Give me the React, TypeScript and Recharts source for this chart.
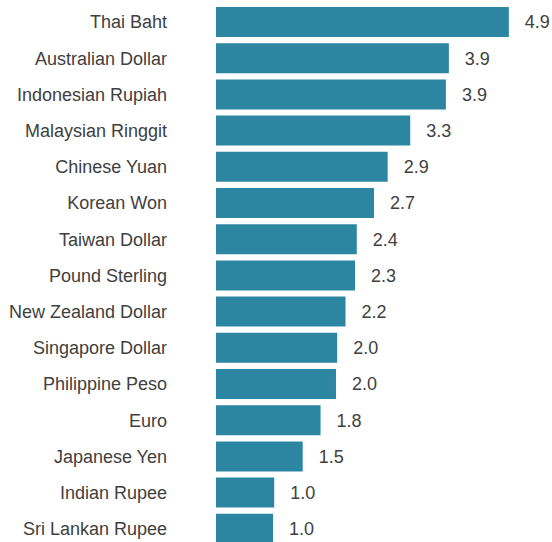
import React from "react";
import { BarChart, Bar, XAxis, YAxis, LabelList } from "recharts";

const currencies = [
  "Thai Baht",
  "Australian Dollar",
  "Indonesian Rupiah",
  "Malaysian Ringgit",
  "Chinese Yuan",
  "Korean Won",
  "Taiwan Dollar",
  "Pound Sterling",
  "New Zealand Dollar",
  "Singapore Dollar",
  "Philippine Peso",
  "Euro",
  "Japanese Yen",
  "Indian Rupee",
  "Sri Lankan Rupee",
];

const values = [4.93, 3.92, 3.87, 3.27, 2.89, 2.66, 2.37, 2.34, 2.18, 2.04, 2.02, 1.76, 1.46, 0.98, 0.96];

const data = currencies.map((name, i) => ({ name, value: values[i] }));

const FONT = "'Liberation Sans', Arial, Helvetica, sans-serif";

export default function App() {
  return (
    <div
      style={{
        position: "fixed",
        left: 0,
        top: 0,
        width: 552,
        height: 542,
        overflow: "hidden",
        background: "#fff",
      }}
    >
      <BarChart
        width={552}
        height={550}
        data={data}
        layout="vertical"
        margin={{ top: 4, right: 39, bottom: 3, left: 0 }}
        barSize={30}
      >
        <XAxis type="number" domain={[0, 5]} hide />
        <YAxis
          type="category"
          dataKey="name"
          width={216}
          axisLine={false}
          tickLine={false}
          tickSize={0}
          tickMargin={49}
          interval={0}
          tick={{ fill: "#404040", fontSize: 18, fontFamily: FONT }}
        />
        <Bar dataKey="value" fill="#2c85a1" isAnimationActive={false}>
          <LabelList
            dataKey="value"
            position="right"
            offset={16}
            formatter={(v: number) => v.toFixed(1)}
            style={{ fill: "#404040", fontSize: 18, fontFamily: FONT }}
          />
        </Bar>
      </BarChart>
    </div>
  );
}
